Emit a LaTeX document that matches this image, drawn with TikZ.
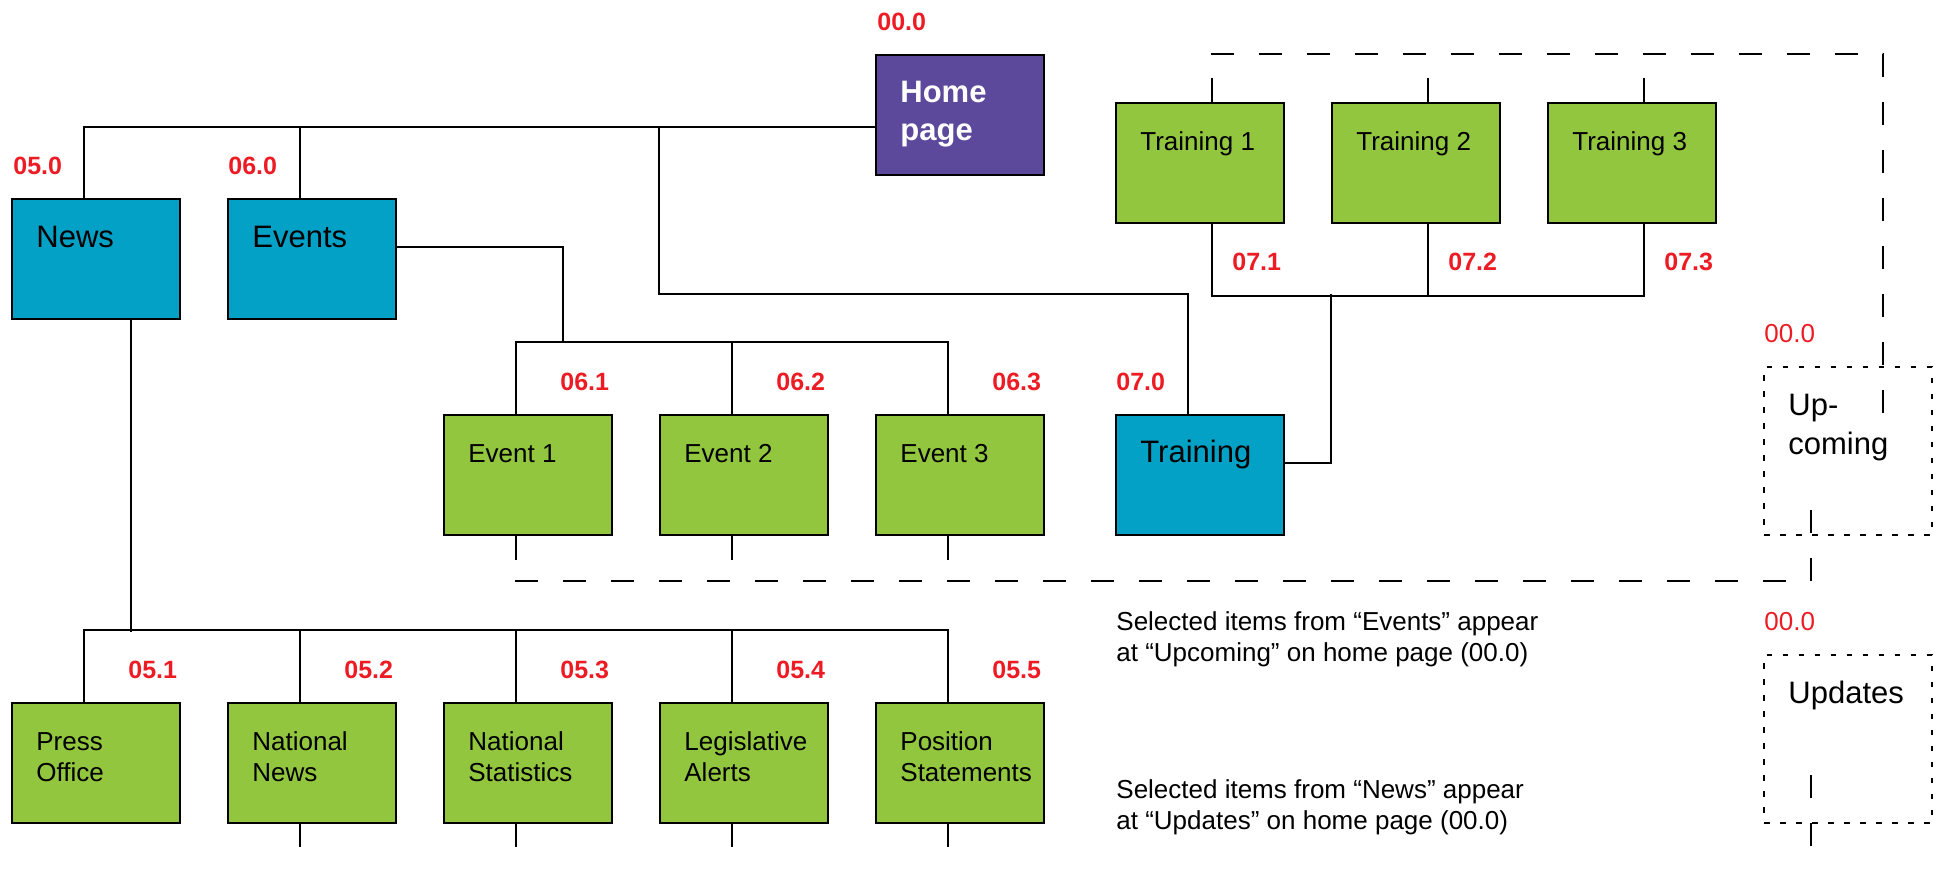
\documentclass[tikz,border=0pt]{standalone}
\usepackage{fontspec}
\setmainfont{Liberation Sans}
\usetikzlibrary{calc}

\definecolor{homepurple}{RGB}{93,73,155}
\definecolor{sectblue}{RGB}{4,161,198}
\definecolor{leafgreen}{RGB}{146,198,62}
\definecolor{codered}{RGB}{237,28,36}

% two left-aligned lines whose baseline is that of the first line
\newcommand\stackl[2]{\vtop{\hbox{#1}\hbox{#2}}}

\tikzset{
  box/.style={draw=black, line width=1.15pt, minimum width=84pt, minimum height=60pt,
              inner sep=0pt, anchor=north west},
  homebox/.style={box, fill=homepurple},
  sectbox/.style={box, fill=sectblue},
  leafbox/.style={box, fill=leafgreen},
  slotbox/.style={box, dash pattern=on 2.75pt off 5.25pt, minimum height=84pt},
  conn/.style={line width=0.85pt},
  feedlink/.style={line width=1.15pt, dash pattern=on 11.5pt off 12.5pt},
  code/.style={text=codered, font=\fontsize{12.5}{15}\selectfont\bfseries,
               inner sep=0pt, anchor=base west},
  slotcode/.style={text=codered, font=\fontsize{13}{15.6}\selectfont,
                   inner sep=0pt, anchor=base west},
  smalltext/.style={font=\fontsize{13}{15.85}\selectfont, inner sep=0pt, anchor=base west},
  bigtext/.style={font=\fontsize{15.5}{19.5}\selectfont, inner sep=0pt, anchor=base west},
  hometext/.style={font=\fontsize{15.5}{19}\selectfont\bfseries, text=white,
                   inner sep=0pt, anchor=base west},
}

\begin{document}
\begin{tikzpicture}[x=0.5pt, y=-0.5pt]
\useasboundingbox (0,0) rectangle (1939,869);

% ---------- boxes ----------
\node[homebox] (home) at (875,54) {};
\node[sectbox] (news) at (11,198) {};
\node[sectbox] (events) at (227,198) {};
\node[sectbox] (training) at (1115,414) {};

\node[leafbox] (t1) at (1115,102) {};
\node[leafbox] (t2) at (1331,102) {};
\node[leafbox] (t3) at (1547,102) {};

\node[leafbox] (e1) at (443,414) {};
\node[leafbox] (e2) at (659,414) {};
\node[leafbox] (e3) at (875,414) {};

\node[leafbox] (p1) at (11,702) {};
\node[leafbox] (p2) at (227,702) {};
\node[leafbox] (p3) at (443,702) {};
\node[leafbox] (p4) at (659,702) {};
\node[leafbox] (p5) at (875,702) {};

\node[slotbox] (upcoming) at (1763,366) {};
\node[slotbox] (updates) at (1763,654) {};

% ---------- box texts ----------
\node[hometext] (home-t) at ($(home.north west)+(25,48)$) {\stackl{Home}{page}};
\node[bigtext] (news-t) at ($(news.north west)+(25,49)$) {News};
\node[bigtext] (events-t) at ($(events.north west)+(25,49)$) {Events};
\node[bigtext] (training-t) at ($(training.north west)+(25,48)$) {Training};

\node[smalltext] (t1-t) at ($(t1.north west)+(25,48)$) {Training 1};
\node[smalltext] (t2-t) at ($(t2.north west)+(25,48)$) {Training 2};
\node[smalltext] (t3-t) at ($(t3.north west)+(25,48)$) {Training 3};

\node[smalltext] (e1-t) at ($(e1.north west)+(25,48)$) {Event 1};
\node[smalltext] (e2-t) at ($(e2.north west)+(25,48)$) {Event 2};
\node[smalltext] (e3-t) at ($(e3.north west)+(25,48)$) {Event 3};

\node[smalltext] (p1-t) at ($(p1.north west)+(25,48)$) {\stackl{Press}{Office}};
\node[smalltext] (p2-t) at ($(p2.north west)+(25,48)$) {\stackl{National}{News}};
\node[smalltext] (p3-t) at ($(p3.north west)+(25,48)$) {\stackl{National}{Statistics}};
\node[smalltext] (p4-t) at ($(p4.north west)+(25,48)$) {\stackl{Legislative}{Alerts}};
\node[smalltext] (p5-t) at ($(p5.north west)+(25,48)$) {\stackl{Position}{Statements}};

\node[bigtext] (upcoming-t) at ($(upcoming.north west)+(25,49)$) {\stackl{Up-}{coming}};
\node[bigtext] (updates-t) at ($(updates.north west)+(25,49)$) {Updates};

% ---------- page codes ----------
\node[code] (c00) at (877,30) {00.0};
\node[code] (c50) at (13,174) {05.0};
\node[code] (c60) at (228,174) {06.0};
\node[code] (c71) at (1232,270) {07.1};
\node[code] (c72) at (1448,270) {07.2};
\node[code] (c73) at (1664,270) {07.3};
\node[code] (c61) at (560,390) {06.1};
\node[code] (c62) at (776,390) {06.2};
\node[code] (c63) at (992,390) {06.3};
\node[code] (c70) at (1116,390) {07.0};
\node[code] (c51) at (128,678) {05.1};
\node[code] (c52) at (344,678) {05.2};
\node[code] (c53) at (560,678) {05.3};
\node[code] (c54) at (776,678) {05.4};
\node[code] (c55) at (992,678) {05.5};
\node[slotcode] (s1) at (1764,342) {00.0};
\node[slotcode] (s2) at (1764,630) {00.0};

% ---------- notes ----------
\node[smalltext] (note-ev) at (1116,630)
  {\stackl{Selected items from “Events” appear}{at “Upcoming” on home page (00.0)}};
\node[smalltext] (note-nw) at (1116,798)
  {\stackl{Selected items from “News” appear}{at “Updates” on home page (00.0)}};

% ---------- hierarchy connectors ----------
\coordinate (homebus) at (659,126);
\coordinate (evfeed) at (563,342);
\coordinate (trfeed) at (1331,294);

\draw[conn] ([yshift=-6pt]home.west) -| ([xshift=-6pt]news.north);
\draw[conn] ([xshift=-6pt]events.north) -- ++(0,-72);
\draw[conn] ([xshift=-6pt]training.north) -- ++(0,-120) -| (homebus);

% events branch
\draw[conn] ([yshift=6pt]events.east) -| (evfeed);
\draw[conn] ([xshift=-6pt]e1.north) -- ++(0,-72) -| ([xshift=-6pt]e3.north);
\draw[conn] ([xshift=-6pt]e2.north) -- ++(0,-72);
\foreach \b in {e1,e2,e3}
  \draw[conn] ([xshift=-6pt]\b.south) -- ++(0,24);

% training branch
\draw[conn] ([yshift=6pt]training.east) -| (trfeed);
\draw[conn] ([xshift=6pt]t1.south) -- ++(0,72) -| ([xshift=6pt]t3.south);
\draw[conn] ([xshift=6pt]t2.south) -- ++(0,72);
\foreach \b in {t1,t2,t3}
  \draw[conn] ([xshift=6pt]\b.north) -- ++(0,-24);

% news branch
\draw[conn] ([xshift=17.5pt]news.south) -- ++(0,312);
\draw[conn] ([xshift=-6pt]p1.north) -- ++(0,-72) -| ([xshift=-6pt]p5.north);
\foreach \b in {p2,p3,p4}
  \draw[conn] ([xshift=-6pt]\b.north) -- ++(0,-72);
\foreach \b in {p2,p3,p4,p5}
  \draw[conn] ([xshift=-6pt]\b.south) -- ++(0,23);

% ---------- feeds to the home page slots ----------
\coordinate (trtop) at (1211,54);
\coordinate (trcorner) at (1883,54);
\coordinate (upin) at (1883,414);
\coordinate (upout) at (1811,510);
\coordinate (evcorner) at (1811,581);
\coordinate (evend) at (515,581);
\coordinate (updout) at (1811,775);
\coordinate (updend) at (1811,869);

\draw[feedlink] (trtop) -- (trcorner) -- (upin);
\draw[feedlink] (upout) -- (evcorner) -- (evend);
\draw[feedlink] (updout) -- (updend);
\end{tikzpicture}
\end{document}
